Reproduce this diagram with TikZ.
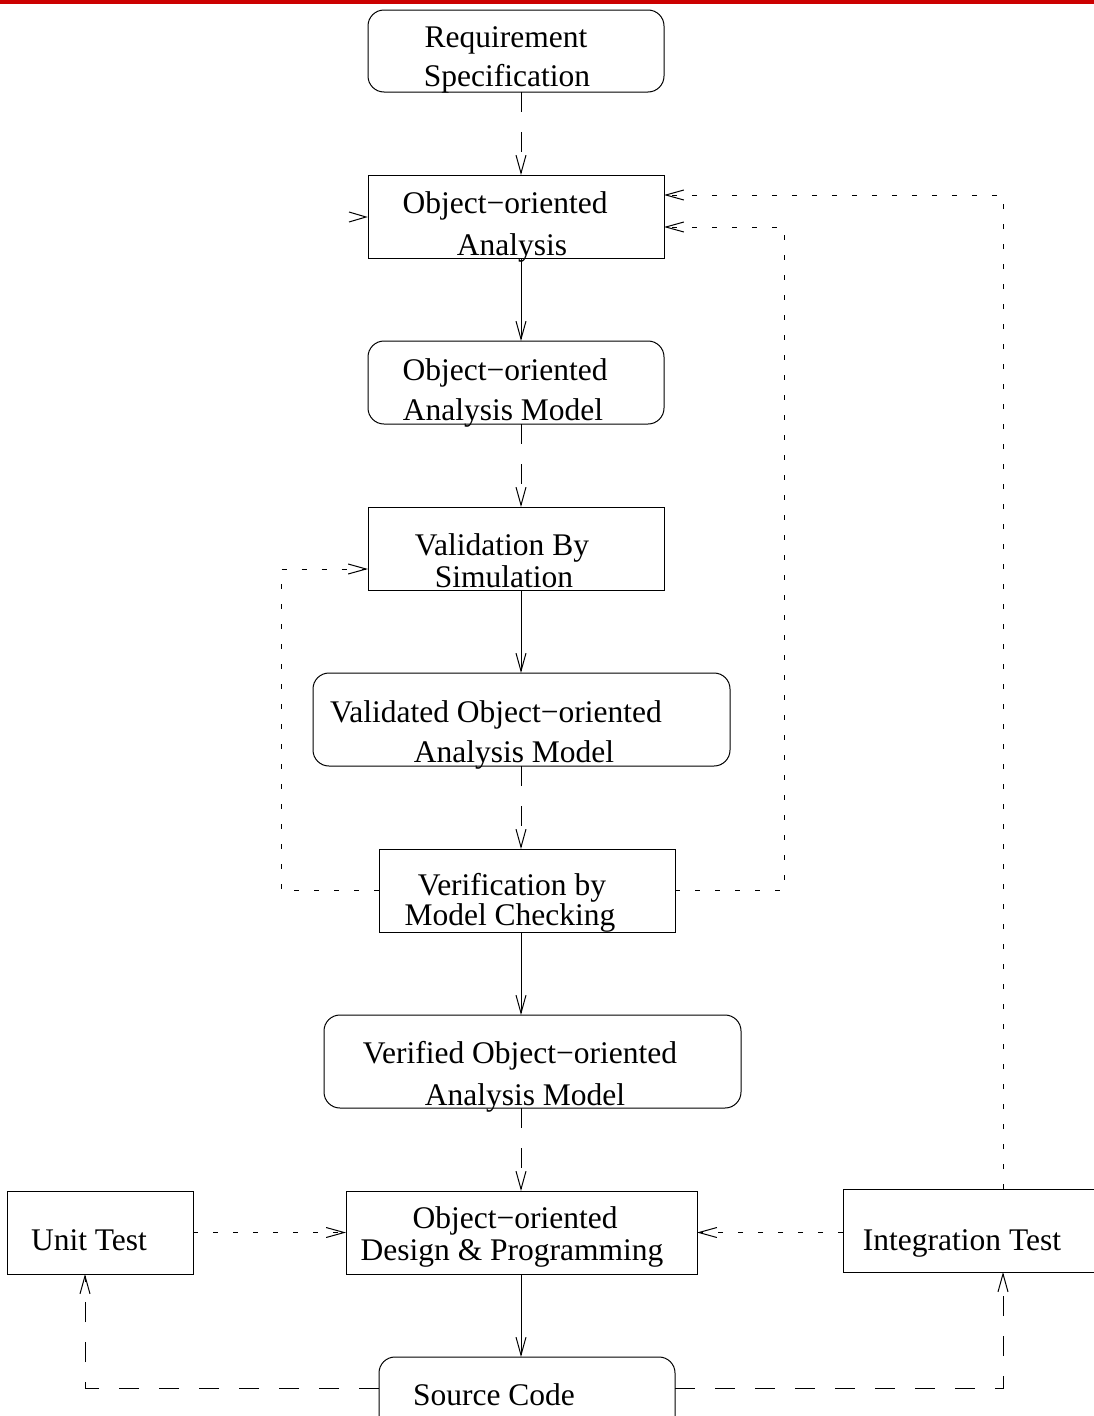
\documentclass[tikz,border=0pt]{standalone}
\usepackage{fontspec}
\setmainfont{Liberation Serif}
\usetikzlibrary{arrows.meta}
\definecolor{topred}{RGB}{204,0,0}
\begin{document}
\begin{tikzpicture}[x=1pt,y=-1pt,
  >={Straight Barb[length=18pt,width=10pt]},
  box/.style={draw, line width=1pt, rectangle, inner sep=0pt, outer sep=0pt},
  rbox/.style={box, rounded corners=16pt},
  txt/.style={anchor=base, inner sep=0pt, font=\fontsize{31.5}{36}\selectfont},
  solidarrow/.style={->, line width=1pt},
  longdash/.style={->, line width=1pt, dash pattern=on 20pt off 20pt},
  dotarrow/.style={->, line width=1pt, dash pattern=on 5pt off 15pt}]
\useasboundingbox (0,0) rectangle (1094,1416);
\clip (0,0) rectangle (1094,1416);
\fill[topred] (0,0) rectangle (1094,4);

% boxes
\node[rbox, minimum width=296pt, minimum height=82pt] (req) at (516,51) {};
\node[box, minimum width=296pt, minimum height=83pt] (ooa) at (516,216.5) {};
\node[rbox, minimum width=296pt, minimum height=83pt] (ooam) at (516,382.5) {};
\node[box, minimum width=296pt, minimum height=83pt] (val) at (516,548.5) {};
\node[rbox, minimum width=417pt, minimum height=93pt] (vdm) at (521.5,719.5) {};
\node[box, minimum width=296pt, minimum height=83pt] (ver) at (527,890.5) {};
\node[rbox, minimum width=417pt, minimum height=93pt] (vfm) at (532.5,1061.5) {};
\node[box, minimum width=351pt, minimum height=83pt] (ood) at (521.5,1232.5) {};
\node[box, minimum width=186pt, minimum height=83pt] (unit) at (100,1232.5) {};
\node[box, minimum width=290pt, minimum height=83pt] (integ) at (988,1230.5) {};
\node[rbox, minimum width=296pt, minimum height=83pt] (src) at (527,1398.5) {};

% texts
\node[txt] (reqa) at (506,47) {Requirement};
\node[txt] (reqb) at (507,86) {Specification};
\node[txt] (ooaa) at (505,213) {Object−oriented};
\node[txt] (ooab) at (512,255) {Analysis};
\node[txt] (ooama) at (505,380) {Object−oriented};
\node[txt] (ooamb) at (503,420) {Analysis Model};
\node[txt] (vala) at (502,555) {Validation By};
\node[txt] (valb) at (504,587) {Simulation};
\node[txt] (vdma) at (496,722) {Validated Object−oriented};
\node[txt] (vdmb) at (514,762) {Analysis Model};
\node[txt] (vera) at (512,895) {Verification by};
\node[txt] (verb) at (510,925) {Model Checking};
\node[txt] (vfma) at (520,1063) {Verified Object−oriented};
\node[txt] (vfmb) at (525,1105) {Analysis Model};
\node[txt] (ooda) at (515,1228) {Object−oriented};
\node[txt] (oodb) at (512,1260) {Design \& Programming};
\node[txt] (unitt) at (89,1250) {Unit Test};
\node[txt] (integt) at (962,1250) {Integration Test};
\node[txt] (srct) at (494,1405) {Source Code};

% main flow
\coordinate (xc) at (521,0);
\draw[longdash] (req.south -| xc) -- (ooa.north -| xc);
\draw[solidarrow] (ooa.south -| xc) -- (ooam.north -| xc);
\draw[longdash] (ooam.south -| xc) -- (val.north -| xc);
\draw[solidarrow] (val.south -| xc) -- (vdm.north -| xc);
\draw[longdash] (vdm.south -| xc) -- (ver.north -| xc);
\draw[solidarrow] (ver.south -| xc) -- (vfm.north -| xc);
\draw[longdash] (vfm.south -| xc) -- (ood.north -| xc);
\draw[solidarrow] (ood.south -| xc) -- (src.north -| xc);

% dangling arrowhead left of analysis box
\draw[line width=1pt] (349,212) -- (366,217) -- (349,222);

% feedback loops
\coordinate (lfb) at (281,569);
\draw[dotarrow] (ver.west) -- (ver.west -| lfb) -- (lfb) -- (lfb -| val.west);
\coordinate (rfb) at (784,227);
\draw[dotarrow] (ver.east) -- (ver.east -| rfb) -- (rfb) -- (rfb -| ooa.east);
\coordinate (itx) at (1003,195);
\draw[dotarrow] (integ.north -| itx) -- (itx) -- (itx -| ooa.east);

% tests
\draw[dotarrow] (unit.east) -- (ood.west);
\draw[dotarrow] (ood.east -| integ.west) -- (ood.east);
\coordinate (sl) at (85,1388);
\draw[longdash] (sl -| src.west) -- (sl) -- (sl |- unit.south);
\coordinate (sr) at (1003,1388);
\draw[longdash] (sr -| src.east) -- (sr) -- (sr |- integ.south);
\end{tikzpicture}
\end{document}
